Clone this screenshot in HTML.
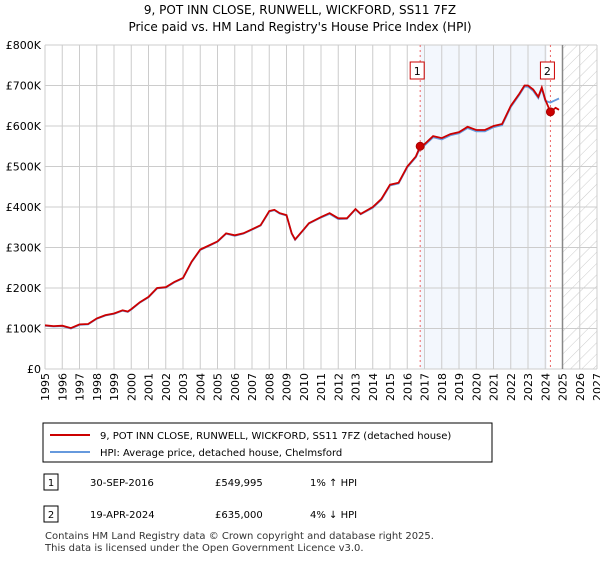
<!DOCTYPE html>
<html><head><meta charset="utf-8"><style>
body{margin:0;background:#fff;font-family:"Liberation Sans","DejaVu Sans",sans-serif;}
svg text{font-family:"DejaVu Sans","Liberation Sans",sans-serif;}
</style></head><body>
<svg id="c" width="600" height="560" xmlns="http://www.w3.org/2000/svg">
<defs><pattern id="h" width="8" height="8" patternUnits="userSpaceOnUse" patternTransform="rotate(45)"><line x1="0" y1="0" x2="0" y2="8" stroke="#ccc" stroke-width="1"/></pattern></defs>
<text x="300" y="14" text-anchor="middle" font-size="12">9, POT INN CLOSE, RUNWELL, WICKFORD, SS11 7FZ</text>
<text x="300" y="31" text-anchor="middle" font-size="12">Price paid vs. HM Land Registry's House Price Index (HPI)</text>
<g id="plot"></g>
<rect x="43" y="423" width="449" height="39" fill="#fff" stroke="#000"/>
<line x1="50" y1="435" x2="90" y2="435" stroke="#cc0000" stroke-width="2"/>
<text x="100" y="439" font-size="10">9, POT INN CLOSE, RUNWELL, WICKFORD, SS11 7FZ (detached house)</text>
<line x1="50" y1="452" x2="90" y2="452" stroke="#6699dd" stroke-width="2"/>
<text x="100" y="456" font-size="10">HPI: Average price, detached house, Chelmsford</text>
<g>
<rect x="44" y="474" width="14" height="16" fill="#fff" stroke="#000"/><text x="51" y="486" font-size="10" text-anchor="middle">1</text>
<text x="90" y="486" font-size="10">30-SEP-2016</text><text x="215" y="486" font-size="10">£549,995</text><text x="310" y="486" font-size="10">1% ↑ HPI</text></g>
<g>
<rect x="44" y="506" width="14" height="16" fill="#fff" stroke="#000"/><text x="51" y="518" font-size="10" text-anchor="middle">2</text>
<text x="90" y="518" font-size="10">19-APR-2024</text><text x="215" y="518" font-size="10">£635,000</text><text x="310" y="518" font-size="10">4% ↓ HPI</text></g>
<text x="45" y="539" font-size="10" fill="#333">Contains HM Land Registry data © Crown copyright and database right 2025.</text>
<text x="45" y="551" font-size="10" fill="#333">This data is licensed under the Open Government Licence v3.0.</text>
</svg>
<script>
const years=[1995,1996,1997,1998,1999,2000,2001,2002,2003,2004,2005,2006,2007,2008,2009,2010,2011,2012,2013,2014,2015,2016,2017,2018,2019,2020,2021,2022,2023,2024,2025,2026,2027];
const yTicks=[0,100,200,300,400,500,600,700,800];
const yLabels=["£0","£100K","£200K","£300K","£400K","£500K","£600K","£700K","£800K"];
const t=[1995,1995.5,1996,1996.5,1997,1997.5,1998,1998.5,1999,1999.5,1999.8,2000,2000.5,2001,2001.5,2002,2002.5,2003,2003.5,2004,2004.5,2005,2005.5,2006,2006.5,2007,2007.5,2008,2008.3,2008.6,2009,2009.3,2009.5,2010,2010.3,2011,2011.5,2012,2012.5,2013,2013.3,2014,2014.5,2015,2015.5,2016,2016.5,2016.75,2017,2017.5,2018,2018.5,2019,2019.5,2020,2020.5,2021,2021.5,2022,2022.5,2022.8,2023,2023.3,2023.6,2023.8,2024,2024.3,2024.6,2024.8];
const price=[108,106,107,101,110,111,125,133,137,145,142,148,165,178,200,202,215,225,265,295,305,315,335,330,335,345,355,390,393,385,380,335,320,345,360,375,385,372,372,395,383,400,420,455,460,500,525,550,555,575,570,580,585,598,590,590,600,605,650,680,700,700,690,672,695,665,635,645,640];
const hpi=[107,105,106,100,109,110,124,132,136,144,141,147,164,177,199,201,214,224,264,294,304,314,334,329,334,344,354,389,392,384,379,334,319,344,359,374,383,370,371,394,382,398,418,453,458,498,523,546,552,572,567,577,582,595,587,587,597,602,647,677,697,697,687,669,692,662,658,664,668];
const sales=[[2016.75,549.995],[2024.3,635]];
const X=v=>45+(v-1995)*(552/32), Y=v=>369-v*(324/800);
const g=document.getElementById('plot'),NS='http://www.w3.org/2000/svg';
function el(n,a,p){const e=document.createElementNS(NS,n);for(const k in a)e.setAttribute(k,a[k]);(p||g).appendChild(e);return e;}
let r=el('rect',{x:X(2016.75),y:45,width:X(2024.1)-X(2016.75),height:324,fill:'#eef3fc',opacity:0.7});


r=el('rect',{x:X(2025),y:45,width:X(2027)-X(2025),height:324,fill:'url(#h)'});


years.forEach(y=>{const l=el('line',{x1:X(y),x2:X(y),y1:45,y2:369,stroke:'#ccc'});


const tx=el('text',{x:0,y:0,'font-size':11,'text-anchor':'end',transform:`translate(${X(y)+4},373) rotate(-90)`});tx.textContent=y;

});
yTicks.forEach((v,i)=>{const l=el('line',{x1:45,x2:597,y1:Y(v),y2:Y(v),stroke:'#ccc'});


const tx=el('text',{x:41,y:Y(v)+4,'font-size':11,'text-anchor':'end'});tx.textContent=yLabels[i];

});
let gl=el('line',{x1:X(2025),x2:X(2025),y1:45,y2:369,stroke:'#888','stroke-width':1.5});


sales.forEach((s,i)=>{const l=el('line',{x1:X(s[0]),x2:X(s[0]),y1:45,y2:369,stroke:'#e66','stroke-dasharray':'2,3'});


const b=el('rect',{x:X(s[0])-10,y:62,width:14,height:17,fill:'#fff',stroke:'#c00'});


const tx=el('text',{x:X(s[0])-3,y:75,'font-size':11,'text-anchor':'middle'});tx.textContent=i+1;

});
const pts=a=>t.map((v,i)=>X(v).toFixed(1)+','+Y(a[i]).toFixed(1)).join(' ');
let p=el('polyline',{points:pts(hpi),fill:'none',stroke:'#6699dd','stroke-width':1.8});


p=el('polyline',{points:pts(price),fill:'none',stroke:'#cc0000','stroke-width':1.8});


sales.forEach(s=>{const c=el('circle',{cx:X(s[0]),cy:Y(s[1]),r:4,fill:'#cc0000',stroke:'#aa0000'});

});
</script>
</body></html>
